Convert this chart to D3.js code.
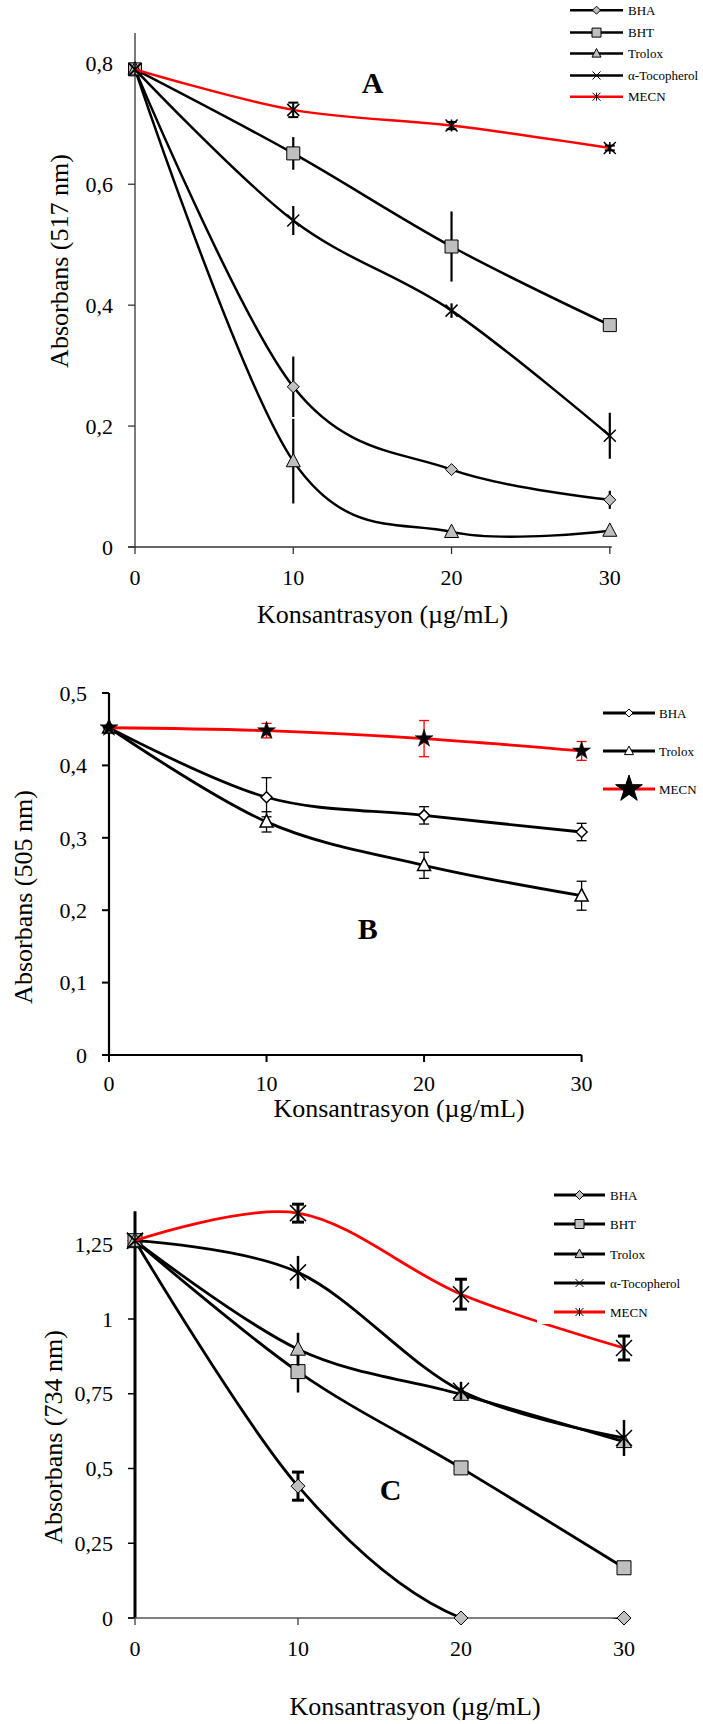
<!DOCTYPE html>
<html>
<head>
<meta charset="utf-8">
<script src="https://cdn.jsdelivr.net/npm/d3@7"></script>
<style>
  body { margin: 0; background: #fff; }
</style>
</head>
<body>
<div id="chart"></div>
<script>
// Concentrations (x values) shared by all panels
const conc = [0, 10, 20, 30];
const xTickLabels = ["0", "10", "20", "30"];

// Panel A - 517 nm
const aBHA = [0.79, 0.265, 0.128, 0.078];
const aBHAErr = [0, 0.05, 0.004, 0.015];
const aBHT = [0.79, 0.651, 0.497, 0.367];
const aBHTErr = [0, 0.027, 0.058, 0.01];
const aTrolox = [0.79, 0.142, 0.025, 0.027];
const aTroloxErr = [0, 0.07, 0.004, 0.004];
const aToco = [0.79, 0.54, 0.391, 0.184];
const aTocoErr = [0, 0.024, 0.012, 0.038];
const aMECN = [0.79, 0.723, 0.697, 0.66];
const aMECNErr = [0, 0.012, 0.006, 0.004];
const aTicks = [0, 0.2, 0.4, 0.6, 0.8];
const aTickLabels = ["0", "0,2", "0,4", "0,6", "0,8"];

// Panel B - 505 nm
const bBHA = [0.452, 0.356, 0.331, 0.308];
const bBHAErr = [0, 0.027, 0.012, 0.012];
const bTrolox = [0.452, 0.322, 0.262, 0.22];
const bTroloxErr = [0, 0.014, 0.018, 0.02];
const bMECN = [0.452, 0.448, 0.437, 0.42];
const bMECNErr = [0, 0.01, 0.025, 0.013];
const bTicks = [0, 0.1, 0.2, 0.3, 0.4, 0.5];
const bTickLabels = ["0", "0,1", "0,2", "0,3", "0,4", "0,5"];

// Panel C - 734 nm
const cBHA = [1.262, 0.441, 0, 0];
const cBHAErr = [0, 0.047, 0, 0];
const cBHT = [1.262, 0.824, 0.502, 0.168];
const cBHTErr = [0, 0.07, 0, 0.01];
const cTrolox = [1.262, 0.899, 0.748, 0.59];
const cTroloxErr = [0, 0.055, 0.02, 0.02];
const cToco = [1.262, 1.156, 0.76, 0.602];
const cTocoErr = [0, 0.055, 0.03, 0.06];
const cMECN = [1.262, 1.354, 1.083, 0.903];
const cMECNErr = [0, 0.03, 0.05, 0.04];
const cTicks = [0, 0.25, 0.5, 0.75, 1, 1.25];
const cTickLabels = ["0", "0,25", "0,5", "0,75", "1", "1,25"];

const GRAY = "#bfbfbf";
const RED = "#ff0000";
const FONT = "'Liberation Serif', 'Times New Roman', Times, 'DejaVu Serif', serif";

const svg = d3.select("#chart").append("svg")
    .attr("width", 703)
    .attr("height", 1724)
    .attr("font-family", FONT)
    .style("font-family", FONT);

// marker shapes centred on 0,0
function markerPath(type, s) {
    if (type === "diamond") return `M0,${-s}L${s},0L0,${s}L${-s},0Z`;
    if (type === "square") return `M${-s},${-s}H${s}V${s}H${-s}Z`;
    if (type === "triangle") return `M0,${-s * 1.1}L${s},${s * 0.8}L${-s},${s * 0.8}Z`;
    if (type === "cross") return `M${-s},${-s}L${s},${s}M${s},${-s}L${-s},${s}`;
    if (type === "asterisk") return `M${-s},${-s}L${s},${s}M${s},${-s}L${-s},${s}M0,${-s}L0,${s}`;
    if (type === "star") return d3.symbol(d3.symbolStar, s)();
    return "";
}

function drawPanel(p, idx) {
    const x = d3.scaleLinear().domain([0, 30]).range(p.xRange);
    const y = d3.scaleLinear().domain(p.yDomain).range(p.yRange);
    const g = svg.append("g");

    // axes
    g.append("line")
        .attr("x1", x(0)).attr("x2", x(0))
        .attr("y1", y(0) + 0.5).attr("y2", y(p.yDomain[1]))
        .attr("stroke", p.yAxisColor).attr("stroke-width", p.yAxisWidth);
    g.append("line")
        .attr("x1", x(0) - 7).attr("x2", x(30) + p.xAxisExtra)
        .attr("y1", y(0)).attr("y2", y(0))
        .attr("stroke", p.xAxisColor).attr("stroke-width", p.xAxisWidth);

    g.selectAll(".yt").data(p.ticks).join("line")
        .attr("x1", x(0) - 7).attr("x2", x(0))
        .attr("y1", d => y(d)).attr("y2", d => y(d))
        .attr("stroke", p.yAxisColor).attr("stroke-width", p.tickWidth);
    g.selectAll(".ytl").data(p.ticks).join("text")
        .attr("x", x(0) - 22)
        .attr("y", d => y(d))
        .attr("dy", "0.35em")
        .attr("text-anchor", "end")
        .attr("font-size", 22)
        .text((d, i) => p.tickLabels[i]);

    g.selectAll(".xt").data(conc).join("line")
        .attr("x1", d => x(d)).attr("x2", d => x(d))
        .attr("y1", y(0)).attr("y2", y(0) + 7)
        .attr("stroke", p.xAxisColor).attr("stroke-width", p.tickWidth);
    g.selectAll(".xtl").data(conc).join("text")
        .attr("x", d => x(d))
        .attr("y", y(0) + p.xLabelOffset)
        .attr("dy", "0.35em")
        .attr("text-anchor", "middle")
        .attr("font-size", 22)
        .text((d, i) => xTickLabels[i]);

    // titles
    g.append("text")
        .attr("transform", `translate(${p.yTitle[0]},${p.yTitle[1]}) rotate(-90)`)
        .attr("dy", "0.35em")
        .attr("text-anchor", "middle")
        .attr("font-size", 26)
        .text(p.yTitleText);
    g.append("text")
        .attr("x", p.xTitle[0]).attr("y", p.xTitle[1])
        .attr("dy", "0.35em")
        .attr("text-anchor", "middle")
        .attr("font-size", 26)
        .text("Konsantrasyon (µg/mL)");
    g.append("text")
        .attr("x", p.letter[0]).attr("y", p.letter[1])
        .attr("dy", "0.35em")
        .attr("text-anchor", "middle")
        .attr("font-size", 30)
        .attr("font-weight", "bold")
        .text(p.letterText);

    // clip for lines (plot area)
    const clipId = "clip" + idx;
    svg.append("clipPath").attr("id", clipId)
        .append("rect")
        .attr("x", x(0)).attr("y", 0)
        .attr("width", 703 - x(0)).attr("height", y(0) + 1);

    const line = d3.line()
        .x((d, i) => x(conc[i]))
        .y(d => y(d))
        .curve(d3.curveCardinal.tension(0));

    p.series.forEach(s => {
        const sg = g.append("g");
        sg.append("path")
            .attr("d", line(s.values))
            .attr("fill", "none")
            .attr("stroke", s.color)
            .attr("stroke-width", p.lineWidth)
            .attr("clip-path", `url(#${clipId})`);

        // error bars
        s.values.forEach((v, i) => {
            const e = s.errs[i];
            if (!e) return;
            sg.append("line")
                .attr("x1", x(conc[i])).attr("x2", x(conc[i]))
                .attr("y1", y(v - e)).attr("y2", y(v + e))
                .attr("stroke", s.errColor).attr("stroke-width", s.errWidth);
            if (s.caps) {
                [v - e, v + e].forEach(c => {
                    sg.append("line")
                        .attr("x1", x(conc[i]) - s.caps).attr("x2", x(conc[i]) + s.caps)
                        .attr("y1", y(c)).attr("y2", y(c))
                        .attr("stroke", s.errColor).attr("stroke-width", s.errWidth);
                });
            }
        });

        // markers
        sg.selectAll(".m").data(s.values).join("path")
            .attr("transform", (d, i) => `translate(${x(conc[i])},${y(d)})`)
            .attr("d", markerPath(s.marker, s.size))
            .attr("fill", s.fill)
            .attr("stroke", "#000")
            .attr("stroke-width", s.markerStroke);
    });

    // legend
    if (p.legendBox) {
        g.append("rect")
            .attr("x", p.legendBox[0]).attr("y", p.legendBox[1])
            .attr("width", p.legendBox[2]).attr("height", p.legendBox[3])
            .attr("fill", "#fff");
    }
    p.series.forEach((s, i) => {
        const ly = p.legend.rows[i];
        g.append("line")
            .attr("x1", p.legend.x1).attr("x2", p.legend.x2)
            .attr("y1", ly).attr("y2", ly)
            .attr("stroke", s.color).attr("stroke-width", p.legendLineWidth);
        g.append("path")
            .attr("transform", `translate(${(p.legend.x1 + p.legend.x2) / 2},${ly})`)
            .attr("d", markerPath(s.marker, s.legendSize))
            .attr("fill", s.fill)
            .attr("stroke", "#000")
            .attr("stroke-width", 1);
        g.append("text")
            .attr("x", p.legend.tx).attr("y", ly)
            .attr("dy", "0.35em")
            .attr("font-size", 13)
            .text(s.name);
    });
}

const panels = [
    {
        xRange: [135, 609.8], yDomain: [0, 0.85], yRange: [547, 547 - 0.85 * 604.6],
        ticks: aTicks, tickLabels: aTickLabels,
        yAxisColor: "#333", yAxisWidth: 1.3, xAxisColor: "#333", xAxisWidth: 1.3, tickWidth: 1.3, xAxisExtra: 2,
        xLabelOffset: 30, lineWidth: 2.5, legendLineWidth: 2.5,
        yTitle: [58.5, 261], yTitleText: "Absorbans (517 nm)",
        xTitle: [382.5, 614], letter: [372.6, 82], letterText: "A",
        legend: { x1: 570, x2: 623, tx: 628, rows: [10.2, 32.6, 53.5, 75.5, 96.7] },
        series: [
            { name: "BHA", values: aBHA, errs: aBHAErr, color: "#000", marker: "diamond", size: 6, legendSize: 4, fill: GRAY, markerStroke: 1, errColor: "#000", errWidth: 2.2, caps: 0 },
            { name: "BHT", values: aBHT, errs: aBHTErr, color: "#000", marker: "square", size: 6.5, legendSize: 4.5, fill: GRAY, markerStroke: 1, errColor: "#000", errWidth: 2.2, caps: 0 },
            { name: "Trolox", values: aTrolox, errs: aTroloxErr, color: "#000", marker: "triangle", size: 7, legendSize: 4.5, fill: GRAY, markerStroke: 1, errColor: "#000", errWidth: 2.2, caps: 0 },
            { name: "α-Tocopherol", values: aToco, errs: aTocoErr, color: "#000", marker: "cross", size: 6, legendSize: 4, fill: "none", markerStroke: 1.5, errColor: "#000", errWidth: 2.2, caps: 0 },
            { name: "MECN", values: aMECN, errs: aMECNErr, color: RED, marker: "asterisk", size: 6, legendSize: 4, fill: "none", markerStroke: 1.5, errColor: "#000", errWidth: 2, caps: 5 }
        ]
    },
    {
        xRange: [109, 581.6], yDomain: [0, 0.5], yRange: [1055, 693],
        ticks: bTicks, tickLabels: bTickLabels,
        yAxisColor: "#000", yAxisWidth: 2.2, xAxisColor: "#000", xAxisWidth: 2.2, tickWidth: 2, xAxisExtra: 0,
        xLabelOffset: 28, lineWidth: 2.8, legendLineWidth: 3,
        yTitle: [22.4, 897], yTitleText: "Absorbans (505 nm)",
        xTitle: [399, 1108], letter: [367.7, 928], letterText: "B",
        legend: { x1: 603, x2: 655, tx: 659, rows: [713, 751, 789] },
        series: [
            { name: "BHA", values: bBHA, errs: bBHAErr, color: "#000", marker: "diamond", size: 5.5, legendSize: 4, fill: "#fff", markerStroke: 1.5, errColor: "#000", errWidth: 1.3, caps: 5 },
            { name: "Trolox", values: bTrolox, errs: bTroloxErr, color: "#000", marker: "triangle", size: 6.5, legendSize: 4.5, fill: "#fff", markerStroke: 1.5, errColor: "#000", errWidth: 1.3, caps: 5 },
            { name: "MECN", values: bMECN, errs: bMECNErr, color: RED, marker: "star", size: 100, legendSize: 220, fill: "#000", markerStroke: 0.5, errColor: RED, errWidth: 1.3, caps: 5 }
        ]
    },
    {
        xRange: [135, 624], yDomain: [0, 1.36], yRange: [1618, 1618 - 1.36 * 299],
        ticks: cTicks, tickLabels: cTickLabels,
        yAxisColor: "#000", yAxisWidth: 3, xAxisColor: "#555", xAxisWidth: 1.5, tickWidth: 1.5, xAxisExtra: 2,
        xLabelOffset: 30, lineWidth: 2.8, legendLineWidth: 3,
        yTitle: [53.3, 1437], yTitleText: "Absorbans (734 nm)",
        xTitle: [415, 1706], letter: [390.7, 1489], letterText: "C",
        legend: { x1: 554, x2: 605, tx: 610, rows: [1195, 1224, 1254, 1283, 1312] },
        legendBox: [537, 1180, 166, 144],
        series: [
            { name: "BHA", values: cBHA, errs: cBHAErr, color: "#000", marker: "diamond", size: 7, legendSize: 4.5, fill: GRAY, markerStroke: 1, errColor: "#000", errWidth: 3, caps: 6 },
            { name: "BHT", values: cBHT, errs: cBHTErr, color: "#000", marker: "square", size: 7, legendSize: 4.5, fill: GRAY, markerStroke: 1, errColor: "#000", errWidth: 2.5, caps: 0 },
            { name: "Trolox", values: cTrolox, errs: cTroloxErr, color: "#000", marker: "triangle", size: 7.5, legendSize: 4.5, fill: GRAY, markerStroke: 1, errColor: "#000", errWidth: 2.5, caps: 0 },
            { name: "α-Tocopherol", values: cToco, errs: cTocoErr, color: "#000", marker: "cross", size: 8, legendSize: 4, fill: "none", markerStroke: 1.5, errColor: "#000", errWidth: 2.5, caps: 0 },
            { name: "MECN", values: cMECN, errs: cMECNErr, color: RED, marker: "asterisk", size: 8, legendSize: 4, fill: "none", markerStroke: 1.5, errColor: "#000", errWidth: 3, caps: 6 }
        ]
    }
];

panels.forEach(drawPanel);
</script>
</body>
</html>
